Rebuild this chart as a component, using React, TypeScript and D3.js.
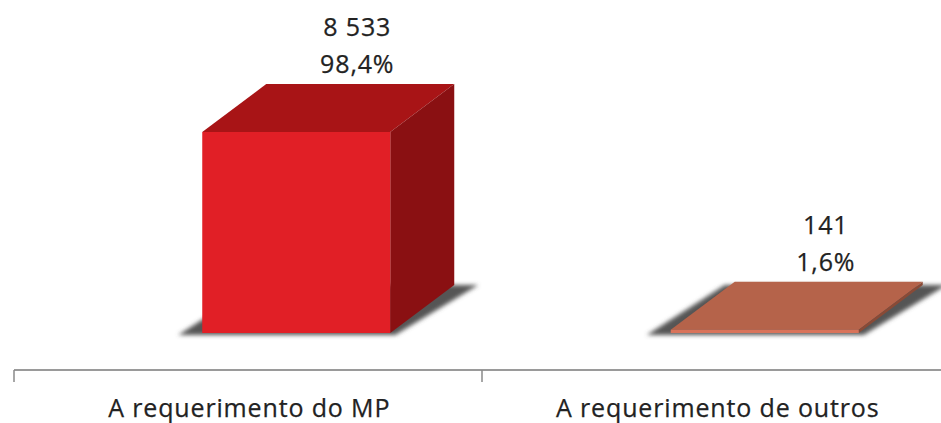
import React from "react";
import * as d3 from "d3";

const categories = ["A requerimento do MP", "A requerimento de outros"];
const values = [8533, 141];
const valueLabels = ["8 533", "141"];
const percentLabels = ["98,4%", "1,6%"];
const frontColors = ["#e11f26", "#d9735a"];
const topColors = ["#a81416", "#b5634a"];
const sideColors = ["#8a1012", "#8a4a36"];

const W = 941, H = 423;
const x = d3.scaleBand<string>().domain(categories).range([14, 951]);
const y = d3.scaleLinear().domain([0, 8533]).range([333, 132]);
const barW = 188, dx = 64, dy = 48;
const barOffset = 48;
const font = "'Open Sans', sans-serif";
const labelStyle = { fontFamily: font, fontSize: 25, fill: "#222", letterSpacing: 0.85, stroke: "#222", strokeWidth: 0.25 };

export default function App() {
  return (
    <svg width={W} height={H} style={{ position: "fixed", left: 0, top: 0, background: "#fff" }}>
      <defs>
        <filter id="blur" x="-20%" y="-20%" width="140%" height="140%"><feGaussianBlur stdDeviation="2" /></filter>
      </defs>
      {categories.map((c, i) => {
        const center = x(c)! + x.bandwidth() / 2;
        const x0 = center - barW / 2 + barOffset;
        const x1 = x0 + barW;
        const yt = y(values[i]);
        const yb = y(0);
        const pts = (a: number[][]) => a.map(p => p.join(",")).join(" ");
        return (
          <g key={c}>
            <polygon points={pts([[x0 - 24, yb + 2], [x1 + 5, yb + 2], [x1 + dx + 24, yb - dy], [x0 + dx - 10, yb - dy]])} fill="#555" filter="url(#blur)" />
            <polygon points={pts([[x0, yt], [x1, yt], [x1 + dx, yt - dy], [x0 + dx, yt - dy]])} fill={topColors[i]} />
            <polygon points={pts([[x1, yt], [x1 + dx, yt - dy], [x1 + dx, yb - dy], [x1, yb]])} fill={sideColors[i]} />
            <rect x={x0} y={yt} width={barW} height={yb - yt} fill={frontColors[i]} />
            <text x={x0 + 155} y={yt - 96} textAnchor="middle" {...labelStyle}>{valueLabels[i]}</text>
            <text x={x0 + 155} y={yt - 59} textAnchor="middle" {...labelStyle}>{percentLabels[i]}</text>
            <text x={center + 1} y={417} textAnchor="middle" {...labelStyle}>{c}</text>
          </g>
        );
      })}
      <line x1={14} x2={941} y1={370} y2={370} stroke="#9a9a9a" strokeWidth={2} />
      {[14, 482].map(t => <line key={t} x1={t} x2={t} y1={370} y2={382} stroke="#8a8a8a" strokeWidth={1.5} />)}
    </svg>
  );
}
